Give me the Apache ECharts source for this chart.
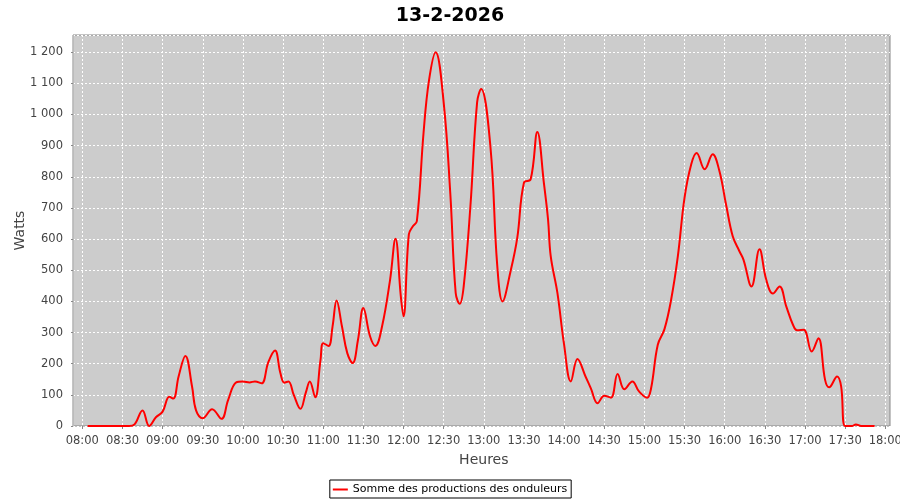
<!DOCTYPE html>
<html>
<head>
<meta charset="utf-8">
<script src="https://cdn.jsdelivr.net/npm/echarts@6/dist/echarts.min.js"></script>
<style>html,body{margin:0;padding:0;background:#fff}#c{width:900px;height:500px}</style>
</head>
<body>
<div id="c"></div>
<script>
const title = '13-2-2026';
const seriesName = 'Somme des productions des onduleurs';
const times = ['08:04','08:10','08:15','08:20','08:25','08:30','08:35','08:39','08:45','08:50','08:55','09:00','09:05','09:08','09:12','09:17','09:22','09:25','09:30','09:37','09:44','09:49','09:55','10:00','10:05','10:09','10:14','10:19','10:24','10:28','10:31','10:34','10:38','10:43','10:47','10:50','10:54','10:58','11:00','11:04','11:07','11:10','11:14','11:18','11:22','11:26','11:30','11:35','11:39','11:44','11:50','11:54','11:58','12:00','12:04','12:07','12:10','12:15','12:19','12:24','12:30','12:35','12:39','12:42','12:45','12:50','12:55','12:58','13:05','13:10','13:14','13:20','13:25','13:30','13:35','13:40','13:45','13:48','13:50','13:55','14:00','14:05','14:10','14:16','14:20','14:25','14:30','14:35','14:40','14:45','14:51','14:56','15:02','15:05','15:10','15:15','15:20','15:25','15:30','15:35','15:39','15:45','15:51','15:56','16:01','16:06','16:11','16:14','16:20','16:26','16:31','16:36','16:41','16:46','16:51','16:54','16:59','17:05','17:10','17:15','17:18','17:24','17:27','17:30','17:35','17:38','17:42','17:47','17:52'];
const watts = [0,0,0,0,0,0,0,5,50,0,28,46,94,88,160,225,127,50,25,54,23,84,140,143,140,143,137,205,242,170,139,143,100,55,107,143,92,212,266,257,320,403,320,234,202,277,379,288,257,320,470,601,416,352,615,641,658,942,1108,1200,1039,744,427,392,449,706,1039,1082,894,518,400,497,604,781,792,944,776,663,545,427,261,143,215,159,121,73,97,91,167,118,143,111,91,121,261,311,406,545,733,840,876,824,872,819,711,609,561,534,448,567,470,425,448,384,325,307,309,239,282,148,124,159,127,0,0,5,0,0,0];
const yTicks = [0,100,200,300,400,500,600,700,800,900,1000,1100,1200];
const xTickLabels = ['08:00','08:30','09:00','09:30','10:00','10:30','11:00','11:30','12:00','12:30','13:00','13:30','14:00','14:30','15:00','15:30','16:00','16:30','17:00','17:30','18:00'];

function toMin(t){const p=t.split(':');return (+p[0])*60+(+p[1]);}
function fmtMin(m){const h=Math.floor(m/60), mm=m%60;return String(h).padStart(2,'0')+':'+String(mm).padStart(2,'0');}
function fmtW(v){return v>=1000 ? Math.floor(v/1000)+' '+String(v%1000).padStart(3,'0') : String(v);}

const data = times.map((t,i)=>[toMin(t), watts[i]]);
const xMin = toMin(xTickLabels[0]), xMax = toMin(xTickLabels[xTickLabels.length-1]);
const FONT = 'DejaVu Sans';
const YMAX = 1255;

const chart = echarts.init(document.getElementById('c'), null, {renderer:'canvas'});
chart.setOption({
  animation:false,
  backgroundColor:'#ffffff',
  textStyle:{fontFamily:FONT},
  title:{text:title,left:'center',top:2,textStyle:{fontFamily:FONT,fontSize:19,fontWeight:'bold',color:'#000'}},
  legend:{
    data:[seriesName], bottom:2, left:'center',
    borderColor:'#000', borderWidth:1, borderRadius:0, padding:[4,4,3,3],
    icon:'rect', itemWidth:15, itemHeight:2,
    textStyle:{fontFamily:FONT,fontSize:11,color:'#000'}
  },
  grid:[
    {left:73, top:35, width:817, height:391, show:true, backgroundColor:'#cccccc', borderColor:'#888888', borderWidth:1, containLabel:false, outerBoundsMode:'none'},
    {left:82.3, top:35, width:803, height:391, show:false, containLabel:false, outerBoundsMode:'none'}
  ],
  xAxis:[
    {gridIndex:0, type:'value', min:0, max:1, show:false},
    {gridIndex:1, type:'value', min:xMin, max:xMax, interval:30,
     name:'Heures', nameLocation:'middle', nameGap:27, nameMoveOverlap:false,
     nameTextStyle:{fontFamily:FONT,fontSize:14,color:'#444'},
     axisLine:{show:false},
     axisTick:{show:true, length:3, lineStyle:{color:'#888'}},
     axisLabel:{margin:9, color:'#444', fontFamily:FONT, fontSize:11.5, formatter:v=>fmtMin(v)},
     splitLine:{show:true, lineStyle:{color:'#ffffff', type:[2,2], width:1}}
    }
  ],
  yAxis:[
    {gridIndex:0, type:'value', min:0, max:YMAX, interval:100, offset:5,
     name:'Watts', nameLocation:'middle', nameGap:41, nameRotate:90, nameMoveOverlap:false,
     nameTextStyle:{fontFamily:FONT,fontSize:14,color:'#444'},
     axisLine:{show:true, lineStyle:{color:'#bbbbbb'}},
     axisTick:{show:true, length:2, lineStyle:{color:'#888'}},
     axisLabel:{margin:5, color:'#444', fontFamily:FONT, fontSize:11.5, showMaxLabel:false, formatter:v=>fmtW(v)},
     splitLine:{show:true, lineStyle:{color:'#ffffff', type:[2,2], width:1}}
    },
    {gridIndex:1, type:'value', min:0, max:YMAX, show:false}
  ],
  series:[{
    name:seriesName, type:'line', xAxisIndex:1, yAxisIndex:1,
    data:data, smooth:0.4, showSymbol:false, clip:true,
    lineStyle:{color:'#ff0000', width:2}, itemStyle:{color:'#ff0000'}
  }]
});
</script>
</body>
</html>
